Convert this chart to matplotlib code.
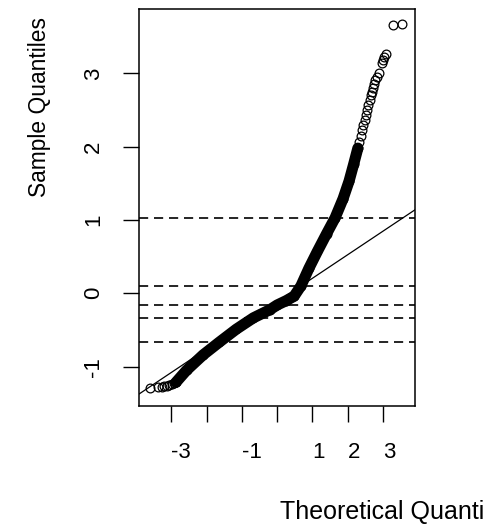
import numpy as np
import matplotlib
matplotlib.use("Agg")
import matplotlib.pyplot as plt
from statistics import NormalDist

plt.rcParams["font.family"] = ["Liberation Sans", "DejaVu Sans"]

# sparse lower tail (theoretical, sample)
low_theo = [-3.62, -3.37, -3.27, -3.20, -3.13, -3.06, -2.99, -2.93, -2.87]
low_samp = [-1.296, -1.282, -1.274, -1.268, -1.264, -1.25, -1.241, -1.227, -1.214]

# dense body
mid_theo = [-2.87, -2.57, -2.10, -1.645, -1.16, -0.674, -0.21, 0.0, 0.26, 0.48,
            0.674, 0.90, 1.14, 1.40, 1.645, 1.87, 2.04, 2.17, 2.29]
mid_samp = [-1.214, -1.05, -0.84, -0.668, -0.49, -0.335, -0.225, -0.16, -0.10, -0.04,
            0.10, 0.34, 0.57, 0.81, 1.03, 1.29, 1.53, 1.76, 1.98]

# sparse upper tail
high_theo = [2.33, 2.37, 2.40, 2.43, 2.48, 2.53, 2.56, 2.59, 2.62, 2.65, 2.69,
             2.716, 2.745, 2.78, 2.83, 2.89, 2.96, 2.99, 3.03, 3.10, 3.30, 3.55]
high_samp = [2.06, 2.15, 2.23, 2.30, 2.36, 2.43, 2.50, 2.57, 2.64, 2.70, 2.75,
             2.80, 2.86, 2.91, 2.95, 3.00, 3.14, 3.18, 3.22, 3.27, 3.66, 3.67]

# sample quantiles at 5, 25, 50, 75, 95 %
probs = [0.05, 0.25, 0.5, 0.75, 0.95]
sample_quants = [-0.665, -0.333, -0.155, 0.10, 1.023]

xticks = [-3, -2, -1, 0, 1, 2, 3]
xtick_labels = ["-3", "", "-1", "", "1", "2", "3"]
yticks = [-1, 0, 1, 2, 3]
ytick_labels = ["-1", "0", "1", "2", "3"]

fig = plt.figure(figsize=(4.83, 5.29), dpi=100)
ax = fig.add_axes([0.2884, 0.2331, 0.5708, 0.7493])

theo = np.concatenate([low_theo, mid_theo, high_theo])
samp = np.concatenate([low_samp, mid_samp, high_samp])

ax.plot(mid_theo, mid_samp, color="black", lw=8, solid_capstyle="round",
        solid_joinstyle="round", zorder=3)
ax.plot(theo, samp, "o", mfc="none", mec="black", ms=6.3, mew=0.9, zorder=3)

# qqline through the quartiles
nd = NormalDist()
z25, z75 = nd.inv_cdf(probs[1]), nd.inv_cdf(probs[3])
slope = (sample_quants[3] - sample_quants[1]) / (z75 - z25)
ax.axline((z25, sample_quants[1]), slope=slope, color="black", lw=0.9, zorder=2)

for q in sample_quants:
    ax.axhline(q, color="black", lw=1.2, ls=(0, (5.5, 3.5)), zorder=2)

ax.set_xlim(-3.91, 3.91)
ax.set_ylim(-1.533, 3.873)

ax.set_xticks(xticks)
ax.set_xticklabels(xtick_labels, ha="left")
ax.set_yticks(yticks)
ax.set_yticklabels(ytick_labels, rotation=90, va="center")
ax.tick_params(direction="out", length=11.5, width=1.0, labelsize=16)
ax.tick_params(axis="x", pad=15)
ax.tick_params(axis="y", pad=14)
for s in ax.spines.values():
    s.set_linewidth(1.1)

# x label runs past the right edge, as in the original
fig.text(280 / 483, 1 - 519.4 / 529, "Theoretical Quantiles", fontsize=18,
         ha="left", va="baseline")
fig.text(40 / 483, 1 - 106.7 / 529, "Sample Quantiles", fontsize=16.4,
         rotation=90, ha="center", va="center")

fig.savefig("out.png", dpi=100)
